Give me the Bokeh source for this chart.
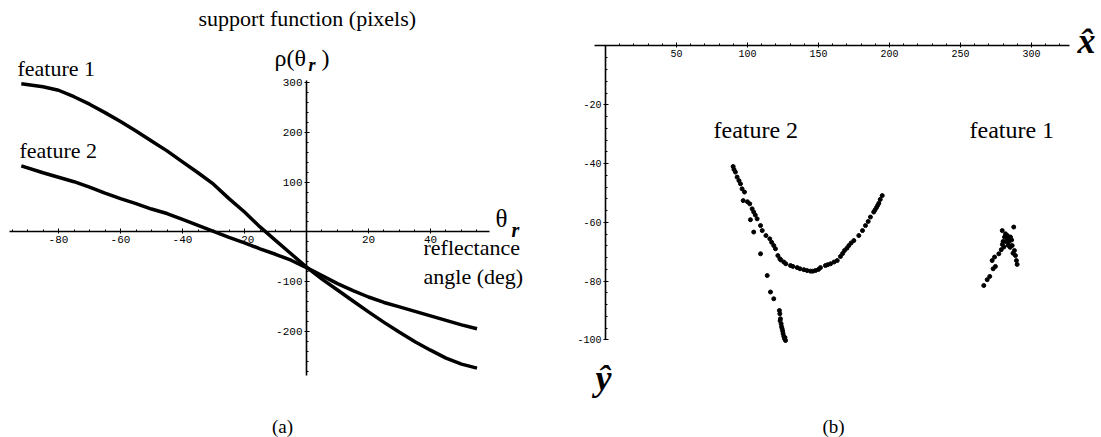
import numpy as np
from bokeh.plotting import figure
from bokeh.models import Range1d, LinearAxis, FixedTicker, Label
from bokeh.layouts import row
from bokeh.embed import file_html
from bokeh.resources import INLINE

# ---------------- (a) support function vs reflectance angle ----------------
theta_deg = [-92, -85, -80, -75, -70, -65, -60, -55, -50, -45, -40, -35, -30, -25,
             -20, -15, -10, -5, 0, 5, 10, 15, 20, 25, 30, 35, 40, 45, 50, 55]
rho_feature1 = [298, 292, 285, 272, 257, 240, 222, 203, 183, 163, 141, 119, 96, 67,
                40, 10, -17, -44, -71, -95, -117, -139, -161, -182, -202, -221, -238,
                -254, -266, -274]
rho_feature2 = [133, 119, 110, 101, 90, 78, 67, 57, 46, 37, 25, 13, 1, -11,
                -22, -34, -45, -57, -72, -88, -104, -118, -131, -142, -151, -160,
                -169, -178, -187, -195]

a_xticks = [-80, -60, -40, -20, 20, 40]
a_yticks = [-200, -100, 100, 200, 300]

# ---------------- (b) recovered feature points in the image plane -------------
feat2_x = [89.9, 90.5, 91.5, 92.7, 94.0, 95.1, 96.2, 97.9, 97.0, 100.0, 101.6, 103.3,
           104.4, 105.5, 102.1, 106.8, 109.2, 110.4, 104.4, 113.0, 115.7, 117.0, 118.5,
           119.7, 109.2, 121.4, 122.8, 123.5, 125.6, 127.0, 130.3, 132.0, 135.0, 137.0,
           139.7, 142.0, 144.4, 146.0, 147.9, 150.0, 151.4, 154.9, 156.5, 158.5, 161.0,
           163.2, 165.5, 167.0, 168.3, 170.0, 171.4, 173.0, 174.9, 178.4, 181.0, 183.1,
           185.0, 186.6, 188.9, 189.8, 190.8, 191.6, 192.5, 193.5, 194.9,
           113.9, 116.2, 118.5, 122.5, 122.8, 123.2, 123.0, 123.7, 124.0, 124.4, 124.8,
           125.1, 125.6, 126.1, 126.4, 126.8]
feat2_y = [-41.0, -42.0, -42.9, -44.6, -45.8, -46.9, -48.6, -49.7, -52.6, -53.0, -53.7,
           -55.4, -56.5, -57.5, -59.1, -58.8, -61.1, -62.8, -63.3, -64.5, -65.6, -66.8,
           -67.9, -69.0, -70.7, -71.3, -72.4, -72.8, -73.5, -74.1, -74.7, -75.0, -75.4,
           -75.8, -76.1, -76.4, -76.6, -76.6, -76.4, -76.0, -75.4, -74.7, -74.4, -74.1,
           -73.5, -73.0, -71.6, -70.6, -69.6, -68.8, -67.9, -67.0, -66.2, -64.5, -62.8,
           -61.1, -59.7, -58.2, -56.5, -55.8, -55.0, -54.3, -53.5, -52.2, -50.9,
           -78.1, -83.7, -86.0, -90.0, -91.1, -92.8, -93.5, -94.5, -95.5, -96.2, -97.0,
           -97.9, -98.8, -99.6, -99.2, -100.2]
feat1_x = [266.4, 268.8, 270.6, 273.0, 274.6, 272.3, 274.0, 277.0, 278.7, 280.5, 279.4,
           281.7, 282.9, 284.0, 285.2, 287.5, 286.4, 288.0, 288.7, 289.4, 289.9, 281.0,
           283.0, 284.5, 283.5, 285.0, 282.0, 286.0, 287.0, 280.0, 279.5]
feat1_y = [-81.5, -79.5, -78.4, -75.8, -75.0, -73.0, -71.8, -70.7, -69.3, -68.4, -62.8,
           -63.9, -65.6, -66.7, -65.0, -61.6, -67.9, -69.6, -71.3, -73.0, -74.3, -65.0,
           -64.5, -65.5, -67.8, -68.5, -66.5, -66.0, -70.5, -66.5, -67.5]

b_xticks = [50, 100, 150, 200, 250, 300]
b_yticks = [-100, -80, -60, -40, -20]

SERIF = "Liberation Serif"
MONO = "Liberation Mono"
H = 437


def make_panel(width, xr, yr):
    p = figure(width=width, height=H, x_range=Range1d(*xr), y_range=Range1d(*yr),
               output_backend="svg", toolbar_location=None,
               x_axis_location=None, y_axis_location=None, min_border=0)
    p.outline_line_color = None
    p.xgrid.visible = False
    p.ygrid.visible = False
    p.background_fill_color = "white"
    return p


def crossing_axis(p, side, ticks, minor, bounds, size):
    ax = LinearAxis(fixed_location=0, bounds=bounds)
    ax.ticker = FixedTicker(ticks=ticks, minor_ticks=minor)
    ax.major_label_overrides = {t: str(t) for t in ticks}
    ax.axis_line_color = "black"
    ax.axis_line_width = 1.6
    ax.major_tick_line_color = "black"
    ax.minor_tick_line_color = "black"
    ax.major_tick_in = 3
    ax.major_tick_out = 2
    ax.minor_tick_in = 2
    ax.minor_tick_out = 0
    ax.major_label_standoff = 2
    ax.major_label_text_font = MONO
    ax.major_label_text_font_size = f"{size}px"
    ax.major_label_text_color = "black"
    p.add_layout(ax, side)
    return ax


def text(p, width, s, px, py, size, align="left", style="normal"):
    # px, py: pixel position of the text's left edge (or centre) and vertical middle
    xr, yr = p.x_range, p.y_range
    x = xr.start + px / width * (xr.end - xr.start)
    y = yr.end - py / H * (yr.end - yr.start)
    p.add_layout(Label(x=x, y=y, text=s, text_font=SERIF, text_font_size=f"{size}px",
                       text_align=align, text_baseline="middle", text_font_style=style,
                       text_color="black"))


# ---- panel (a)
WA = 550
pa = make_panel(WA, (-98.71, 78.71), (-413.7, 465.6))
crossing_axis(pa, "below", a_xticks, [v for v in range(-95, 60, 5) if v % 20],
              (-95.9, 59), 11)
crossing_axis(pa, "left", a_yticks, [v for v in range(-280, 301, 20) if v % 100],
              (-288, 305), 11)
pa.line(theta_deg, rho_feature1, line_color="black", line_width=3.5)
pa.line(theta_deg, rho_feature2, line_color="black", line_width=3.5)

text(pa, WA, "support  function  (pixels)", 198, 18, 22)
text(pa, WA, "ρ(θ", 274, 57, 24)
text(pa, WA, "r", 308, 64, 18, style="bold italic")
text(pa, WA, ")", 321, 57, 24)
text(pa, WA, "feature 1", 17, 68, 22)
text(pa, WA, "feature 2", 19, 150, 22)
text(pa, WA, "θ", 495, 218, 25)
text(pa, WA, "r", 511, 229, 20, style="bold italic")
text(pa, WA, "reflectance", 423, 247, 22)
text(pa, WA, "angle  (deg)", 423, 276, 22)
text(pa, WA, "(a)", 282, 426, 19, align="center")

# ---- panel (b)
WB = 551
pb = make_panel(WB, (-38.7, 349.3), (-133.2, 15.48))
crossing_axis(pb, "below", b_xticks, [v for v in range(10, 321, 10) if v % 50],
              (-7.7, 327), 10)
crossing_axis(pb, "left", b_yticks, [v for v in range(-96, 0, 4) if v % 20],
              (-100, 0), 10)
pb.scatter(feat2_x, feat2_y, size=4, color="black")
pb.scatter(feat1_x, feat1_y, size=4, color="black")

text(pb, WB, "feature 2", 713 - 550, 129, 24)
text(pb, WB, "feature 1", 969 - 550, 129, 24)
text(pb, WB, "x̂", 1086 - 550, 40, 36, align="center", style="bold italic")
text(pb, WB, "ŷ", 603 - 550, 377, 36, align="center", style="bold italic")
text(pb, WB, "(b)", 833 - 550, 426, 19, align="center")

layout = row(pa, pb)
open("out.html", "w").write(file_html(layout, INLINE))
